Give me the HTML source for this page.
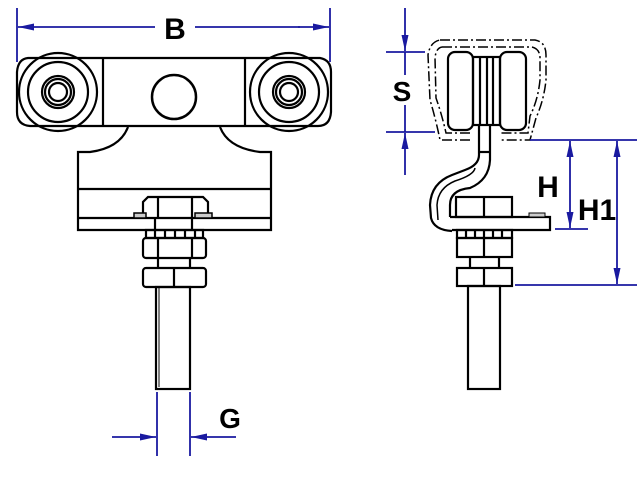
<!DOCTYPE html>
<html><head><style>html,body{margin:0;padding:0;background:#fff}svg{display:block}</style></head>
<body>
<svg width="640" height="480" viewBox="0 0 640 480" xmlns="http://www.w3.org/2000/svg">
<defs>
<marker id="a" markerWidth="16" markerHeight="8" refX="16" refY="4" orient="auto" markerUnits="userSpaceOnUse"><path d="M0,0.5 L16,4 L0,7.5 Z" fill="#1a1aa0"/></marker>
</defs>
<g fill="none" stroke="#000" stroke-width="2.2">
<path d="M28,58 L320,58 Q331,60 331,72 L331,112 Q330,126 318,126 L30,126 Q17,125 17,112 L17,72 Q18,59 28,58 Z"/>
<line x1="103" y1="58" x2="103" y2="126"/>
<line x1="245" y1="58" x2="245" y2="126"/>
<circle cx="58" cy="92" r="39"/><circle cx="58" cy="92" r="30"/>
<circle cx="58" cy="92" r="16"/><circle cx="58" cy="92" r="13"/><circle cx="58" cy="92" r="9"/>
<circle cx="289" cy="92" r="39"/><circle cx="289" cy="92" r="30"/>
<circle cx="289" cy="92" r="16"/><circle cx="289" cy="92" r="13"/><circle cx="289" cy="92" r="9"/>
<circle cx="174" cy="97" r="22" stroke-width="2.5"/>
<path d="M128,127 Q120,148 90,152 L78,152 L78,230 L271,230 L271,152 L260,152 Q228,148 220,127"/>
<line x1="78" y1="189" x2="271" y2="189"/>
<line x1="78" y1="218" x2="271" y2="218"/>
<path d="M143,217 L143,202 L148,197 L203,197 L208,202 L208,217"/>
<line x1="158" y1="197" x2="158" y2="217"/><line x1="192" y1="197" x2="192" y2="217"/>
<rect x="134" y="213" width="12" height="5" fill="#ccc" stroke-width="1.5"/>
<rect x="195" y="213" width="17" height="5" fill="#ccc" stroke-width="1.5"/>
<line x1="155" y1="218" x2="155" y2="230"/><line x1="192" y1="218" x2="192" y2="230"/>
<rect x="146" y="230" width="57" height="8"/>
<line x1="155" y1="230" x2="155" y2="238"/><line x1="165" y1="230" x2="165" y2="238"/><line x1="175" y1="230" x2="175" y2="238"/><line x1="185" y1="230" x2="185" y2="238"/><line x1="195" y1="230" x2="195" y2="238"/>
<rect x="143" y="238" width="63" height="20" rx="3"/>
<line x1="158" y1="238" x2="158" y2="258"/><line x1="192" y1="238" x2="192" y2="258"/>
<line x1="158" y1="258" x2="158" y2="268"/><line x1="190" y1="258" x2="190" y2="268"/>
<rect x="143" y="268" width="63" height="19" rx="3"/>
<line x1="174" y1="268" x2="174" y2="287"/>
<rect x="156" y="287" width="34" height="102"/>
<line x1="159" y1="287" x2="159" y2="387" stroke-width="1"/>
<g stroke-width="1.5" stroke-dasharray="10,3,2,3">
<path d="M440,40 L535,40 Q546,42 546,55 L546,80 Q544,100 536,118 L530,140 L500,140"/>
<path d="M470,140 L440,140 Q436,120 430,100 L428,55 Q430,42 440,40"/>
<path d="M442,47 L532,47 Q540,49 540,58 L540,80 Q538,100 530,116 L528,133 L500,133"/>
<path d="M470,133 L446,133 Q442,115 436,98 L435,58 Q436,48 442,47"/>
</g>
<rect x="448" y="52" width="25" height="78" rx="7"/>
<rect x="500" y="52" width="26" height="78" rx="7"/>
<rect x="473" y="57" width="27" height="68"/>
<line x1="480" y1="57" x2="480" y2="125"/><line x1="487" y1="57" x2="487" y2="125"/><line x1="493" y1="57" x2="493" y2="125"/>
<path d="M479,125 L479,155 Q479,165 465,170 L452,175 Q431,183 430,205 L431,218 Q434,230 452,231"/>
<path d="M490,125 L490,160 Q489,180 470,188 Q450,190 450,205 L450,217"/>
<path d="M438,220 L437,205 Q438,188 455,181 Q474,175 475,168" stroke-width="1.5"/>
<line x1="479" y1="152" x2="490" y2="152"/>
<rect x="456" y="197" width="56" height="20"/>
<line x1="484" y1="197" x2="484" y2="217"/>
<path d="M450,217 L550,217 L550,230 L452,230"/>
<rect x="529" y="213" width="16" height="4" fill="#ccc" stroke-width="1"/>
<rect x="457" y="230" width="55" height="8"/>
<line x1="466" y1="230" x2="466" y2="238"/><line x1="475" y1="230" x2="475" y2="238"/><line x1="484" y1="230" x2="484" y2="238"/><line x1="493" y1="230" x2="493" y2="238"/><line x1="502" y1="230" x2="502" y2="238"/>
<rect x="457" y="238" width="55" height="19"/>
<line x1="484" y1="238" x2="484" y2="257"/>
<line x1="470" y1="257" x2="470" y2="268"/><line x1="499" y1="257" x2="499" y2="268"/>
<rect x="457" y="268" width="55" height="18"/>
<line x1="484" y1="268" x2="484" y2="286"/>
<rect x="468" y="286" width="32" height="103"/>
</g>
<g stroke="#1a1aa0" stroke-width="1.8" fill="none">
<line x1="17" y1="8" x2="17" y2="62"/><line x1="330" y1="8" x2="330" y2="62"/>
<line x1="50" y1="27" x2="18" y2="27" marker-end="url(#a)"/><line x1="155" y1="27" x2="50" y2="27"/>
<line x1="195" y1="27" x2="300" y2="27"/><line x1="298" y1="27" x2="329" y2="27" marker-end="url(#a)"/>
<line x1="157" y1="392" x2="157" y2="456"/><line x1="190" y1="392" x2="190" y2="456"/>
<line x1="112" y1="437" x2="156" y2="437" marker-end="url(#a)"/>
<line x1="236" y1="437" x2="191" y2="437" marker-end="url(#a)"/>
<line x1="405" y1="8" x2="405" y2="51" marker-end="url(#a)"/>
<line x1="405" y1="52" x2="405" y2="75"/><line x1="405" y1="105" x2="405" y2="132"/>
<line x1="405" y1="175" x2="405" y2="133" marker-end="url(#a)"/>
<line x1="386" y1="52" x2="425" y2="52"/><line x1="386" y1="132" x2="435" y2="132"/>
<line x1="530" y1="140" x2="637" y2="140"/>
<line x1="555" y1="229" x2="588" y2="229"/>
<line x1="515" y1="285" x2="637" y2="285"/>
<line x1="570" y1="185" x2="570" y2="141" marker-end="url(#a)"/>
<line x1="570" y1="185" x2="570" y2="228" marker-end="url(#a)"/>
<line x1="617" y1="200" x2="617" y2="141" marker-end="url(#a)"/>
<line x1="617" y1="200" x2="617" y2="284" marker-end="url(#a)"/>
</g>
<g font-family="Liberation Sans, sans-serif" font-weight="bold" fill="#000">
<text x="175" y="39" font-size="30" text-anchor="middle">B</text>
<text x="230" y="428" font-size="28" text-anchor="middle">G</text>
<text x="402" y="101" font-size="28" text-anchor="middle">S</text>
<text x="548" y="197" font-size="30" text-anchor="middle">H</text>
<text x="597" y="220" font-size="30" text-anchor="middle">H1</text>
</g>
</svg>
</body></html>
